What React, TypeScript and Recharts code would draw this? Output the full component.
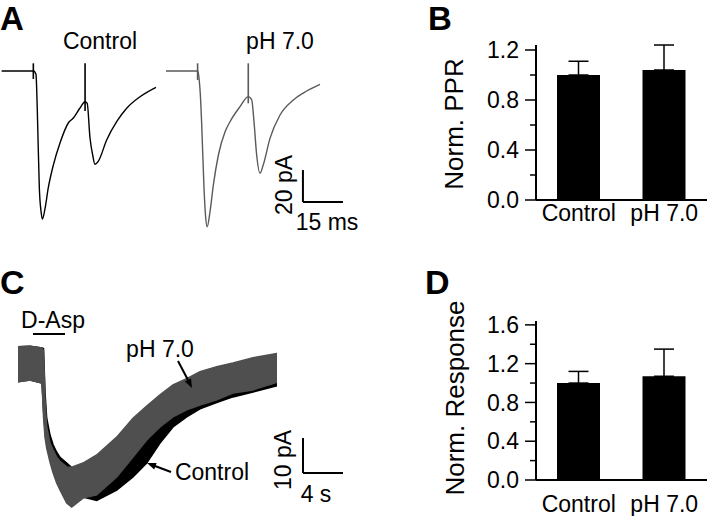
import React from 'react';
import {
  Area,
  Bar,
  BarChart,
  ComposedChart,
  ErrorBar,
  Line,
  LineChart,
  ReferenceLine,
  XAxis,
  YAxis
} from 'recharts';

const FONT = '"Liberation Sans", Arial, Helvetica, sans-serif';

// Panel A: paired-pulse EPSCs (time in ms, current in pA)
const controlPprTime = [0.6, 12.4, 12.6, 13.5, 13.75, 14.1, 14.75, 15.4, 15.9, 16.9, 18.1, 20.0, 22.5, 25.6, 27.5, 30.0, 31.9, 32.7, 33.75, 34.75, 35.6, 36.9, 40.0, 43.75, 47.5, 52.5, 58.5];
const controlPprCurrent = [0, 0, 0, -2.1, -10.8, -31.7, -73.1, -87.9, -92.5, -85.8, -73.1, -58.8, -45, -32.5, -29.4, -23.1, -19.2, -20.2, -41.9, -52.5, -58.3, -56.3, -43.1, -31.7, -23.3, -16.1, -10.2];
const controlStimTime = [12.5, 31.9];
const controlStimTop = [4.8, 4.8];
const controlStimBottom = [-5, -25];

const ph7PprTime = [0.75, 12.3, 12.7, 13.2, 13.6, 14.1, 15.0, 15.6, 16.2, 17.25, 18.5, 20.4, 22.9, 24.75, 28.5, 31.6, 32.9, 33.75, 34.75, 36.0, 37.2, 39.75, 43.5, 48.5, 53.5, 58.5];
const ph7PprCurrent = [0, 0, 0, -5.6, -14, -31.7, -73.1, -91, -97.3, -88, -71.3, -52.5, -38, -31.7, -22.3, -16, -18.1, -31.7, -52.5, -63.9, -58.8, -42.1, -27.5, -18.1, -12.5, -8.3];
const ph7StimTime = [12.6, 31.6];
const ph7StimTop = [4.8, 4.8];
const ph7StimBottom = [-5.6, -20.2];
const scaleA = { ms: 15, pA: 20 };

// Panel B / D: normalized values
const groups = ['Control', 'pH 7.0'];
const pprMean = [1.0, 1.04];
const pprSem = [0.11, 0.2];
const responseMean = [1.0, 1.07];
const responseSem = [0.12, 0.28];

// Panel C: D-Asp transporter currents, noise envelope (time s, current pA)
const dAspTime = [0, 1.2, 2.4, 2.55, 2.7, 2.87, 3.2, 3.5, 3.87, 4.2, 4.87, 5.37, 6.5, 7.87, 9.87, 11.5, 12.87, 14.2, 15.5, 16.87, 18.2, 19.87, 21.5, 23.5, 25.9];
const ph7Low = [-5.1, -4.6, -5.4, -15, -20.9, -24, -28, -31, -34, -36, -39.7, -40.9, -38.3, -37.4, -32.3, -26.6, -21.7, -18, -15.1, -13.1, -11.7, -10.2, -8.3, -7.4, -5.2];
const ph7High = [4.9, 5.1, 4.6, 3.8, -10.3, -18, -22.6, -24.5, -26.6, -27.8, -29.4, -29.5, -28.3, -26, -20.9, -15.5, -12, -8.8, -6, -4.2, -2.2, -0.8, 0.3, 1.8, 3.0];
const controlLow = [-5.1, -4.6, -5.4, -13, -19, -22.5, -27, -30, -33, -35, -38.5, -39.8, -38, -39, -36, -32.3, -28.3, -22.6, -18, -15.1, -12.8, -11, -9.4, -8, -6.2];
const controlHigh = [4.9, 5.1, 4.6, 4.4, -8, -15.5, -20.3, -23, -25.2, -26.7, -28.3, -29.6, -30, -30, -27, -23, -19, -14, -11, -8.5, -6, -4, -2, 0, 2];
const dAspApplication = [1.5, 4.7];
const scaleC = { s: 4, pA: 10 };

const toTrace = (t: number[], v: number[]) => t.map((time, i) => ({ t: time, v: v[i] }));
const toStims = (t: number[], top: number[], bottom: number[]) =>
  t.map((time, i) => [{ t: time, v: top[i] }, { t: time, v: bottom[i] }]);

const controlTrace = toTrace(controlPprTime, controlPprCurrent);
const ph7Trace = toTrace(ph7PprTime, ph7PprCurrent);
const controlStims = toStims(controlStimTime, controlStimTop, controlStimBottom);
const ph7Stims = toStims(ph7StimTime, ph7StimTop, ph7StimBottom);

const pprData = groups.map((name, i) => ({ name, mean: pprMean[i], err: [0, pprSem[i]] }));
const responseData = groups.map((name, i) => ({ name, mean: responseMean[i], err: [0, responseSem[i]] }));

const dAspData = dAspTime.map((t, i) => ({
  t,
  control: [controlLow[i], controlHigh[i]],
  ph7: [ph7Low[i], ph7High[i]]
}));

const makeYTick = (step: number) => (props: any) => {
  const { x, y, payload } = props;
  const ratio = payload.value / step;
  const major = Math.abs(ratio - Math.round(ratio)) < 1e-6;
  return (
    <g>
      <line x1={x - (major ? 11 : 6)} x2={x} y1={y} y2={y} stroke="#000" strokeWidth={1.5} />
      {major && (
        <text x={x - 17} y={y} dy="0.36em" textAnchor="end" fontSize={23} fontFamily={FONT} fill="#000">
          {payload.value.toFixed(1)}
        </text>
      )}
    </g>
  );
};

const makeXTick = (offset: number) => (props: any) => {
  const { x, y, payload } = props;
  return (
    <text x={x} y={y + offset} textAnchor="middle" fontSize={23} fontFamily={FONT} fill="#000">
      {payload.value}
    </text>
  );
};

const box = (left: number, top: number): React.CSSProperties => ({ position: 'absolute', left, top });

function TraceA({ data, stims, width, stroke, withScale }: { data: any[]; stims: any[][]; width: number; stroke: string; withScale?: boolean }) {
  const cornerT = 52.1;
  const cornerV = -81.9;
  return (
    <LineChart width={width} height={185} data={data} margin={{ top: 0, right: 0, bottom: 0, left: 0 }}>
      <XAxis type="number" dataKey="t" domain={[0, width / 2.6667]} hide />
      <YAxis type="number" domain={[-105.625, 10]} hide />
      <Line type="monotone" dataKey="v" stroke={stroke} strokeWidth={1.4} dot={false} isAnimationActive={false} />
      {stims.map((s, i) => (
        <Line key={i} data={s} type="linear" dataKey="v" stroke={stroke} strokeWidth={1.6} dot={false} isAnimationActive={false} />
      ))}
      {withScale && (
        <ReferenceLine
          segment={[{ x: cornerT, y: cornerV }, { x: cornerT + scaleA.ms, y: cornerV }]}
          stroke="#000"
          strokeWidth={2}
          ifOverflow="visible"
        />
      )}
      {withScale && (
        <ReferenceLine
          segment={[{ x: cornerT, y: cornerV }, { x: cornerT, y: cornerV + scaleA.pA }]}
          stroke="#000"
          strokeWidth={2}
          ifOverflow="visible"
        />
      )}
    </LineChart>
  );
}

export default function App() {
  const cornerT = 28.5;
  const cornerV = -31.14;
  const txt = { fontFamily: FONT, fill: '#000' };
  return (
    <div style={{ position: 'absolute', left: 0, top: 0, width: 709, height: 516, background: '#fff', overflow: 'hidden' }}>
      <div style={box(0, 55)}>
        <TraceA data={controlTrace} stims={controlStims} width={164} stroke="#000" />
      </div>
      <div style={box(164, 55)}>
        <TraceA data={ph7Trace} stims={ph7Stims} width={190} stroke="#5a5a5a" withScale />
      </div>

      <div style={box(440, 30)}>
        <BarChart width={269} height={200} data={pprData} margin={{ top: 15, right: 2, bottom: 0, left: 0 }}>
          <XAxis dataKey="name" height={30} axisLine={{ stroke: '#000', strokeWidth: 2 }} tickLine={false} tickSize={0} tickMargin={0} interval={0} tick={makeXTick(21)} />
          <YAxis type="number" width={96} domain={[0, 1.24]} ticks={[0, 0.2, 0.4, 0.6, 0.8, 1.0, 1.2]} interval={0} axisLine={{ stroke: '#000', strokeWidth: 2 }} tickLine={false} tickSize={0} tickMargin={0} tick={makeYTick(0.4)} />
          <Bar dataKey="mean" fill="#000" barSize={43} isAnimationActive={false}>
            <ErrorBar dataKey="err" width={10} stroke="#000" strokeWidth={1.5} direction="y" isAnimationActive={false} />
          </Bar>
        </BarChart>
      </div>

      <div style={box(18, 300)}>
        <ComposedChart width={335} height={216} data={dAspData} margin={{ top: 0, right: 0, bottom: 0, left: 0 }}>
          <XAxis type="number" dataKey="t" domain={[0, 33.5]} hide />
          <YAxis type="number" domain={[-43.43, 18.29]} hide />
          <Area type="linear" dataKey="control" fill="#000" fillOpacity={1} stroke="#000" strokeWidth={1.5} isAnimationActive={false} />
          <Area type="linear" dataKey="ph7" fill="#4f4f4f" fillOpacity={1} stroke="#4f4f4f" strokeWidth={1.5} isAnimationActive={false} />
          <ReferenceLine segment={[{ x: dAspApplication[0], y: 8.57 }, { x: dAspApplication[1], y: 8.57 }]} stroke="#000" strokeWidth={2} ifOverflow="visible" />
          <ReferenceLine segment={[{ x: cornerT, y: cornerV }, { x: cornerT + scaleC.s, y: cornerV }]} stroke="#000" strokeWidth={2} ifOverflow="visible" />
          <ReferenceLine segment={[{ x: cornerT, y: cornerV }, { x: cornerT, y: cornerV + scaleC.pA }]} stroke="#000" strokeWidth={2} ifOverflow="visible" />
        </ComposedChart>
      </div>

      <div style={box(440, 290)}>
        <BarChart width={269} height={226} data={responseData} margin={{ top: 31, right: 2, bottom: 0, left: 0 }}>
          <XAxis dataKey="name" height={36} axisLine={{ stroke: '#000', strokeWidth: 2 }} tickLine={false} tickSize={0} tickMargin={0} interval={0} tick={makeXTick(32)} />
          <YAxis type="number" width={96} domain={[0, 1.64]} ticks={[0, 0.2, 0.4, 0.6, 0.8, 1.0, 1.2, 1.4, 1.6]} interval={0} axisLine={{ stroke: '#000', strokeWidth: 2 }} tickLine={false} tickSize={0} tickMargin={0} tick={makeYTick(0.4)} />
          <Bar dataKey="mean" fill="#000" barSize={43} isAnimationActive={false}>
            <ErrorBar dataKey="err" width={10} stroke="#000" strokeWidth={1.5} direction="y" isAnimationActive={false} />
          </Bar>
        </BarChart>
      </div>

      <svg width={709} height={516} style={{ position: 'absolute', left: 0, top: 0, pointerEvents: 'none' }}>
        <text x={0} y={30} fontSize={33} fontWeight="bold" {...txt}>A</text>
        <text x={428} y={30} fontSize={33} fontWeight="bold" {...txt}>B</text>
        <text x={0} y={294} fontSize={34} fontWeight="bold" {...txt}>C</text>
        <text x={425} y={294} fontSize={34} fontWeight="bold" {...txt}>D</text>

        <text x={100} y={49} fontSize={23} textAnchor="middle" {...txt}>Control</text>
        <text x={280} y={49} fontSize={23} textAnchor="middle" {...txt}>pH 7.0</text>
        <text x={292} y={185} fontSize={23} textAnchor="middle" transform="rotate(-90 292 185)" {...txt}>20 pA</text>
        <text x={327} y={230} fontSize={23} textAnchor="middle" {...txt}>15 ms</text>

        <text x={463} y={124} fontSize={26} textAnchor="middle" transform="rotate(-90 463 124)" {...txt}>Norm. PPR</text>
        <text x={464} y={398} fontSize={26} textAnchor="middle" transform="rotate(-90 464 398)" {...txt}>Norm. Response</text>

        <text x={53} y={328} fontSize={23} textAnchor="middle" {...txt}>D-Asp</text>
        <text x={160} y={357} fontSize={23} textAnchor="middle" {...txt}>pH 7.0</text>
        <text x={212} y={480} fontSize={23} textAnchor="middle" {...txt}>Control</text>
        <text x={291} y={460} fontSize={23} textAnchor="middle" transform="rotate(-90 291 460)" {...txt}>10 pA</text>
        <text x={316} y={502} fontSize={23} textAnchor="middle" {...txt}>4 s</text>

        <line x1={178} y1={361} x2={188} y2={380} stroke="#000" strokeWidth={2} />
        <polygon points="192,388 191,378.4 184.8,381.6" fill="#000" />
        <line x1={171} y1={472} x2={155} y2={466} stroke="#000" strokeWidth={2} />
        <polygon points="147,463 156.6,462.9 154.2,469.5" fill="#000" />
      </svg>
    </div>
  );
}
